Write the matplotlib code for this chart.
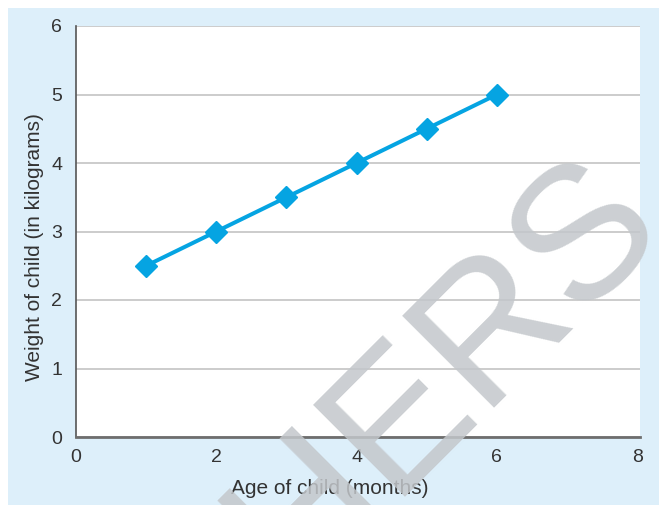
import matplotlib
matplotlib.use("Agg")
import matplotlib.pyplot as plt
from matplotlib.patches import Rectangle

ages = [1, 2, 3, 4, 5, 6]
weights = [2.5, 3.0, 3.5, 4.0, 4.5, 5.0]
x_ticks = [0, 2, 4, 6, 8]
y_ticks = [0, 1, 2, 3, 4, 5, 6]
x_label = "Age of child (months)"
y_label = "Weight of child (in kilograms)"
watermark = "HERS"

plt.rcParams['font.family'] = ['Liberation Sans', 'DejaVu Sans']

W, H = 659, 505
fig = plt.figure(figsize=(W / 100, H / 100), dpi=100, facecolor='white')
fig.patches.append(Rectangle((8 / W, 0), 1 - 8 / W, 1 - 8 / H, transform=fig.transFigure,
                             facecolor='#ddeffa', edgecolor='none', zorder=-5))

left, right, top, bottom = 76, 640, 26, 437
ax = fig.add_axes([left / W, (H - bottom) / H, (right - left) / W, (bottom - top) / H])
ax.set_zorder(1)
ax.set_facecolor('white')
ax.set_xlim(0, 8.04)
ax.set_ylim(0, 6)
ax.set_xticks(x_ticks)
ax.set_yticks(y_ticks)
ax.tick_params(length=0, labelsize=14, colors='#333333')
ax.tick_params(axis='x', pad=9)
ax.tick_params(axis='y', pad=10)
ax.grid(axis='y', color='#c4c4c4', linewidth=1.2)
ax.set_axisbelow(True)
for s in ['top', 'right']:
    ax.spines[s].set_visible(False)
ax.spines['left'].set_color('#555555')
ax.spines['left'].set_linewidth(1.2)
ax.spines['bottom'].set_color('#6e6e6e')
ax.spines['bottom'].set_linewidth(2)

ax.plot(ages, weights, color='#05a4e2', linewidth=2.9, marker='D', markersize=11,
        markerfacecolor='#05a4e2', markeredgecolor='#05a4e2', zorder=3, clip_on=False)

aw, ah = right - left, bottom - top
ax.set_xlabel(x_label, fontsize=15, color='#333333', va='center', ha='center')
ax.xaxis.set_label_coords((330 - left) / aw, (bottom - 489) / ah)
ax.set_ylabel(y_label, fontsize=15, color='#333333', va='center', ha='center')
ax.yaxis.set_label_coords((35 - left) / aw, (bottom - 247) / ah)

fig.text(445 / W, 1 - 372 / H, watermark, rotation=45, rotation_mode='anchor',
         ha='center', va='center', fontsize=136, color='#c3c7cb', alpha=0.85, zorder=10)

fig.savefig('out.png', dpi=100, facecolor=fig.get_facecolor())
